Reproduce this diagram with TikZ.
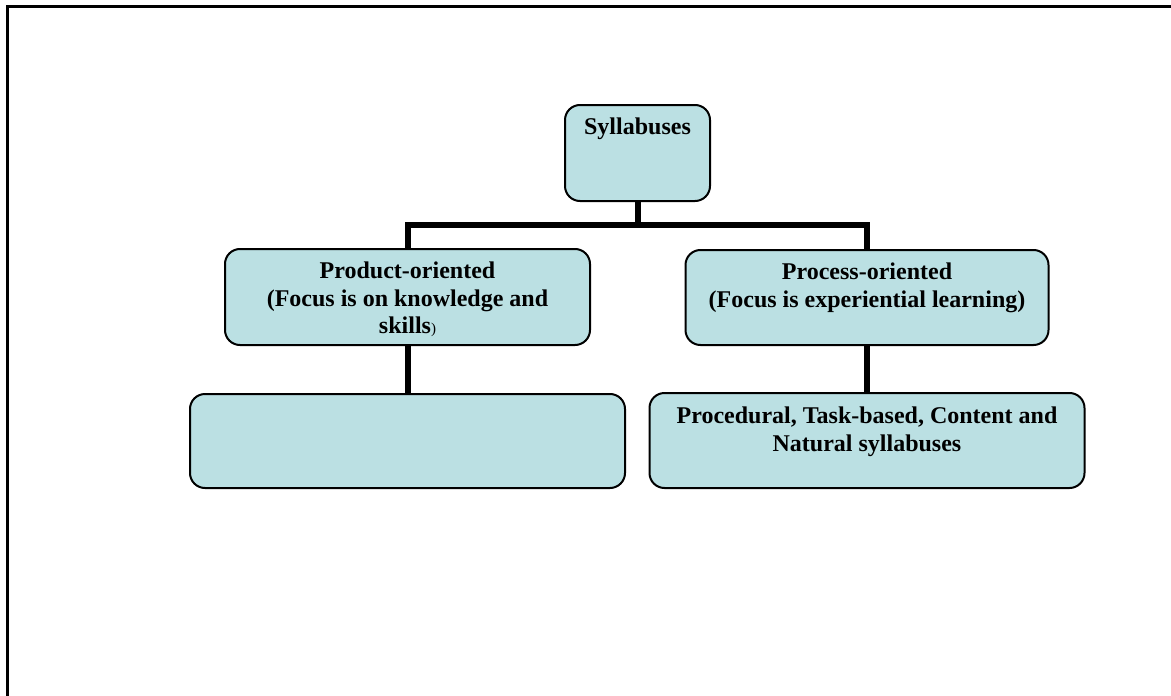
\documentclass[tikz,border=0pt]{standalone}
\usepackage{fontspec}
\setmainfont{Liberation Serif}
\usetikzlibrary{positioning}
\definecolor{boxfill}{RGB}{187,224,227}
\tikzset{
  sbox/.style={draw=black,line width=2pt,fill=boxfill,rounded corners=15pt,inner sep=0pt},
  stxt/.style={font=\fontsize{24}{27.5}\selectfont\bfseries,align=center,inner sep=0pt},
  link/.style={line width=6pt}
}
\begin{document}
\begin{tikzpicture}[x=1pt,y=-1pt]
  \useasboundingbox (0,0) rectangle (1171,696);
  \draw[line width=3pt] (7,700) -- (7,6) -- (1175,6);
  % boxes
  \node[sbox,minimum width=145pt,minimum height=96pt] (syl) at (637.5,153) {};
  \node[sbox,minimum width=365pt,minimum height=96pt] (prod) at (407.5,297) {};
  \node[sbox,minimum width=363pt,minimum height=95pt] (proc) at (867,297.5) {};
  \node[sbox,minimum width=435pt,minimum height=94pt] (prodlist) at (407.5,441) {};
  \node[sbox,minimum width=435pt,minimum height=95pt] (proclist) at (867,440.5) {};
  % texts
  \node[stxt,below=14pt of syl.north] (syltxt) {Syllabuses};
  \node[stxt,below=14pt of prod.north] (prodtxt) {Product-oriented\\(Focus is on knowledge and\\skills{\fontsize{15}{15}\selectfont\mdseries)}};
  \node[stxt,below=14pt of proc.north] (proctxt) {Process-oriented\\(Focus is experiential learning)};
  \node[stxt,below=15pt of proclist.north] (proclisttxt) {Procedural, Task-based, Content and\\Natural syllabuses};
  % links
  \coordinate (fork) at (637.5,225);
  \draw[link] (syl.south) -- (fork) -| (prod.north);
  \draw[link] (fork) -| (proc.north);
  \draw[link] (prod.south) -- (prodlist.north);
  \draw[link] (proc.south) -- (proclist.north);
\end{tikzpicture}
\end{document}
